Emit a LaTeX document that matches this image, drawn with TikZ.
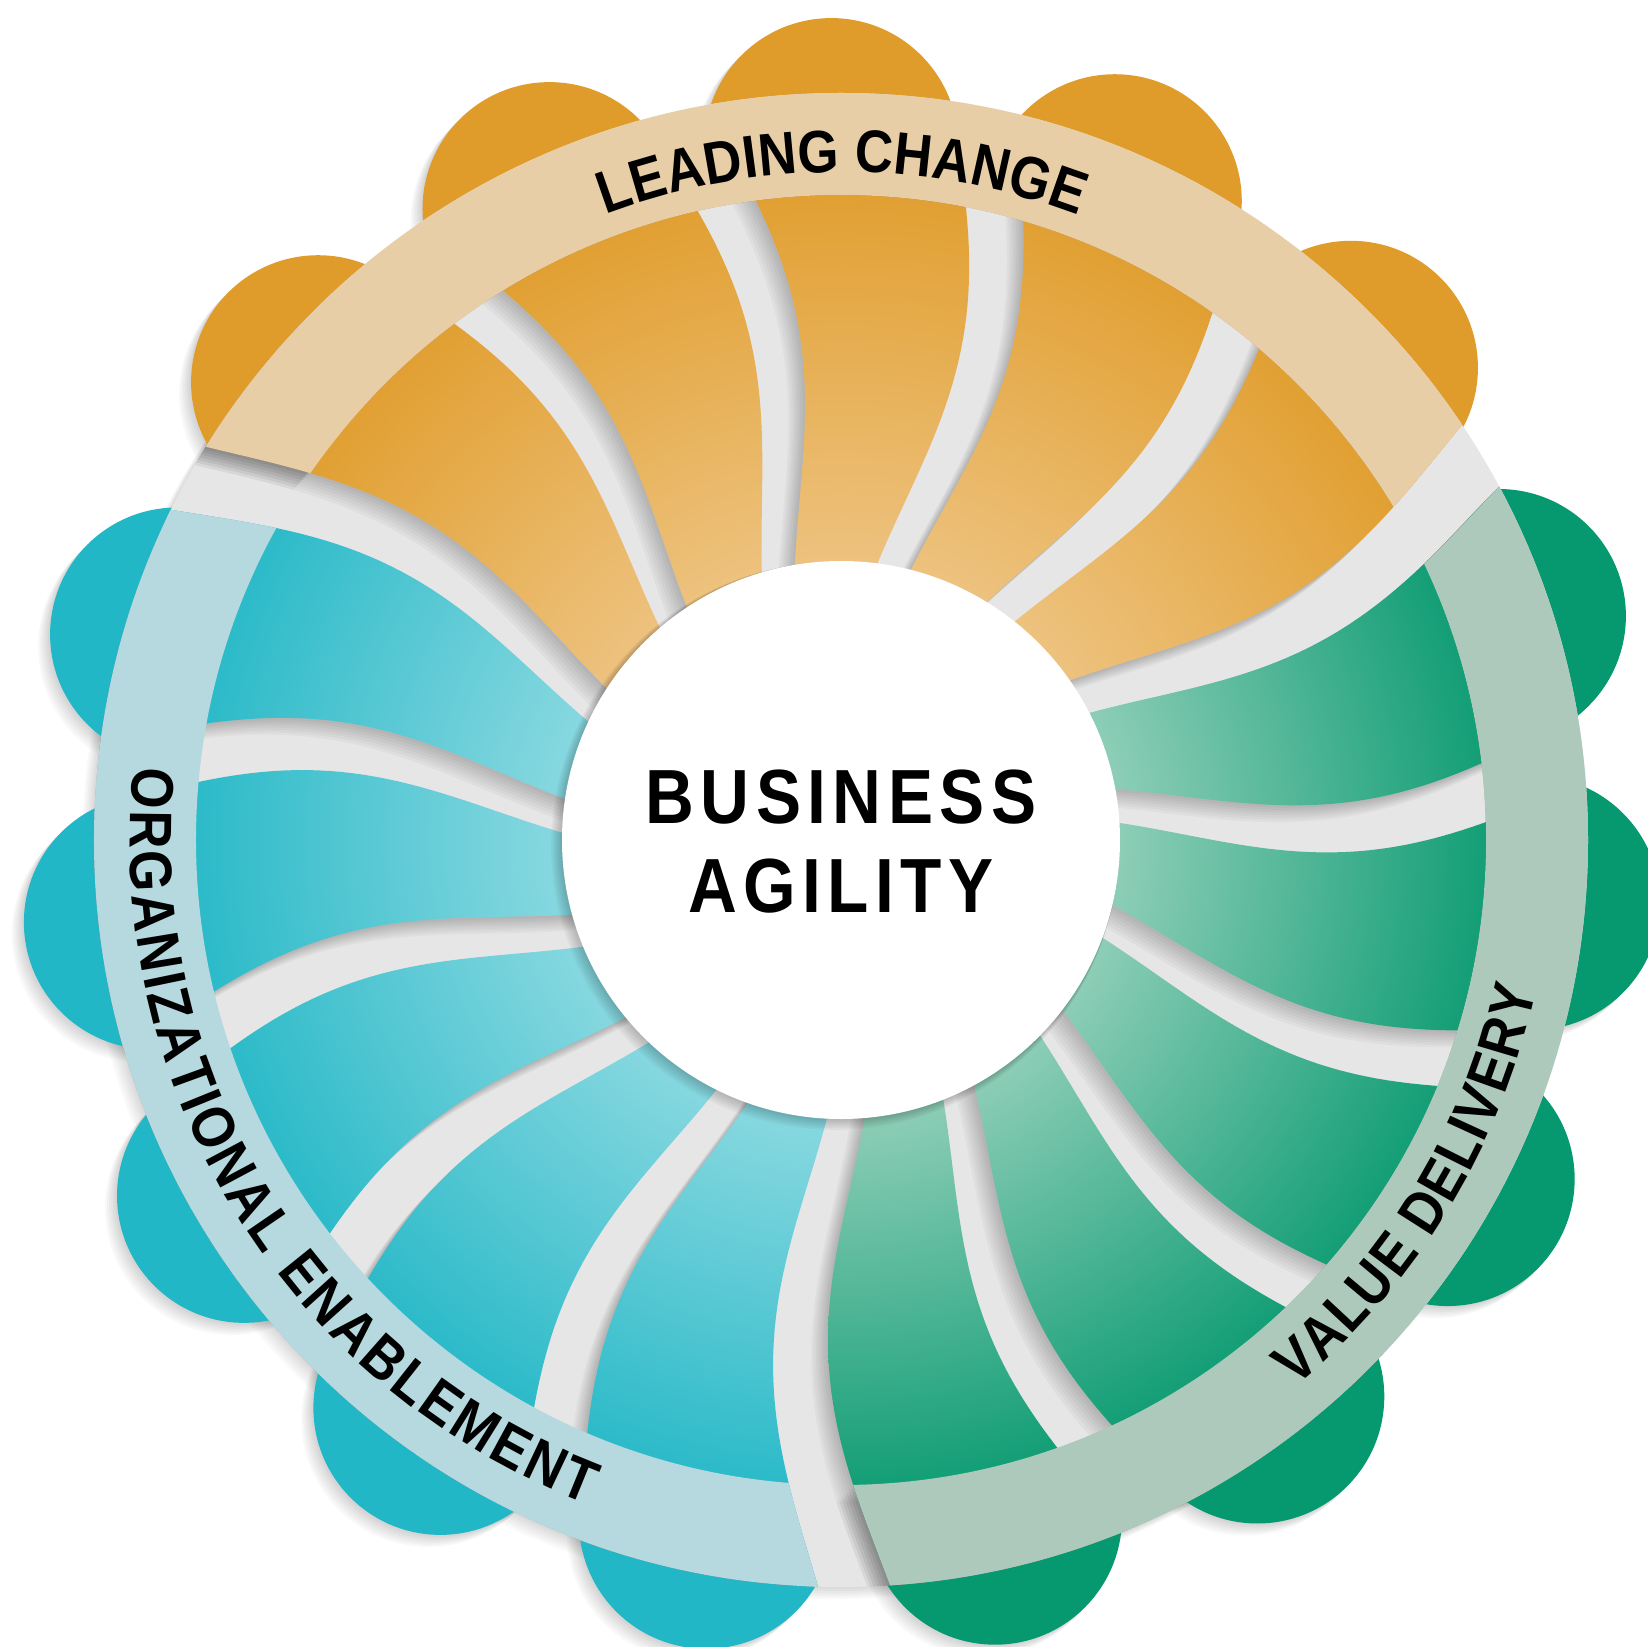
\documentclass[tikz,border=0pt]{standalone}
\usepackage{fontspec}
\setmainfont{Liberation Sans}
\newfontfamily\ringfont{Liberation Sans}[FakeStretch=0.88]
\definecolor{oOut}{HTML}{E09C2A}
\definecolor{oIn}{HTML}{EDC27E}
\definecolor{oRing}{HTML}{E8CEA6}
\definecolor{gOut}{HTML}{06996F}
\definecolor{gIn}{HTML}{8CCDB6}
\definecolor{gRing}{HTML}{ADC9BB}
\definecolor{tOut}{HTML}{22B7C6}
\definecolor{tIn}{HTML}{88D8E0}
\definecolor{tRing}{HTML}{B5D9DE}
\definecolor{gapgrey}{HTML}{E6E6E6}
\pgfdeclareradialshading{oShade}{\pgfpoint{0bp}{0bp}}{color(0bp)=(oIn); color(9.4bp)=(oIn); color(23bp)=(oOut); color(50bp)=(oOut)}
\pgfdeclareradialshading{tShade}{\pgfpoint{0bp}{0bp}}{color(0bp)=(tIn); color(9.4bp)=(tIn); color(23bp)=(tOut); color(50bp)=(tOut)}
\pgfdeclareradialshading{gShade}{\pgfpoint{0bp}{0bp}}{color(0bp)=(gIn); color(9.4bp)=(gIn); color(23bp)=(gOut); color(50bp)=(gOut)}
\tikzset{
  declare function={
    swa(\pA,\pT)=\pA-5.5*sin(180*\pT)*(1+0.35*(1-2*\pT));
    swr(\pT)=279+468*\pT;
    swh(\pT)=17+16*\pT;
    swb(\pT)=19+17*\pT;
  },
  rtxt/.style={inner sep=0pt, outer sep=0pt, anchor=base, font=\ringfont\bfseries\fontsize{60}{60}\selectfont},
  ctxt/.style={inner sep=0pt, outer sep=0pt, anchor=base, font=\ringfont\bfseries\fontsize{76.8}{80}\selectfont},
  shadowbit/.style={fill=black, opacity=#1},
}
\newcommand\petalpath[3]{plot[domain=-0.06:1,samples=44] ({swa(#1,\x)+deg(#2(\x)/swr(\x))}:{swr(\x)}) -- plot[domain=1:-0.06,samples=44] ({swa(#1+24,\x)-deg(#3(\x)/swr(\x))}:{swr(\x)}) -- cycle}
\newcommand\sectorpath[1]{plot[domain=0.45:1.08,samples=24] ({swa(#1,\x)+deg(swb(\x)/swr(\x))}:{swr(\x)}) -- ({#1}:1300) -- ({#1+40}:1300) -- ({#1+80}:1300) -- ({#1+120}:1300) -- plot[domain=1.08:0.45,samples=24] ({swa(#1+120,\x)-deg(swb(\x)/swr(\x))}:{swr(\x)}) -- cycle}
\newcommand\annulus{(747,0) arc[start angle=0,end angle=360,radius=747] -- (645,0) arc[start angle=360,end angle=0,radius=645] -- cycle}
\newcommand\petallist{31/oShade/swb/swh, 55/oShade/swh/swh, 79/oShade/swh/swh, 103/oShade/swh/swh, 127/oShade/swh/swb, 151/tShade/swb/swh, 175/tShade/swh/swh, 199/tShade/swh/swh, 223/tShade/swh/swh, 247/tShade/swh/swb, 271/gShade/swb/swh, 295/gShade/swh/swh, 319/gShade/swh/swh, 343/gShade/swh/swh, 367/gShade/swh/swb}
\newcommand\lobelist{18.8/gOut, 42.8/oOut, 66.8/oOut, 90.8/oOut, 114.8/oOut, 138.8/oOut, 162.8/tOut, 186.8/tOut, 210.8/tOut, 234.8/tOut, 258.8/tOut, 282.8/gOut, 306.8/gOut, 330.8/gOut, 354.8/gOut}
\newcommand\arctext[6]{%
  \begingroup
  \ringfont\bfseries\fontsize{60}{60}\selectfont
  \gdef\atsum{0}\gdef\atn{0}%
  \foreach \ch in {#5}{%
    \pgfmathsetmacro\chw{width("\ch")}%
    \pgfmathsetmacro\tmpa{\atsum+\chw}\xdef\atsum{\tmpa}%
    \pgfmathsetmacro\tmpb{\atn+1}\xdef\atn{\tmpb}%
  }%
  \pgfmathsetmacro\trk{((#4)*pi/180*(#1)-\atsum)/(\atn-1)}%
  \xdef\attrk{\trk}%
  \pgfmathsetmacro\tmpc{(#2)+(#3)*(#4)/2}\xdef\atstart{\tmpc}%
  \gdef\atpos{0}%
  \foreach \ch [count=\ci] in {#5}{%
    \pgfmathsetmacro\chw{width("\ch")}%
    \pgfmathsetmacro\chang{\atstart-(#3)*(\atpos+\chw/2)/(#1)*180/pi}%
    \pgfmathsetmacro\chrot{\chang-(#3)*90}%
    \node[rtxt, rotate=\chrot] (#6\ci) at (\chang:#1) {\ch};%
    \pgfmathsetmacro\tmpd{\atpos+\chw+\attrk}\xdef\atpos{\tmpd}%
  }%
  \endgroup
}
\newcommand\ck{\kern6.5pt\relax}
\begin{document}
\begin{tikzpicture}[x=1pt,y=1pt]
\useasboundingbox (-841,-806) rectangle (807,840);
\fill[white] (-841,-806) rectangle (807,840);
% lobe shadows
\foreach \la/\lc in \lobelist {
  \foreach \s in {1,...,6} {
    \fill[shadowbit=0.028, shift={(-2*\s,-2*\s)}] (\la:695) circle (127);
  }
}
% disk shadow
\foreach \s in {1,...,6} {
  \fill[shadowbit=0.025, shift={(-2*\s,-2*\s)}] (0,0) circle (747);
}
% lobes
\foreach \la/\lc in \lobelist {
  \fill[\lc] (\la:695) circle (127);
}
% grey disk
\fill[gapgrey] (0,0) circle (747);
% petal shadows
\begin{scope}
  \clip (0,0) circle (747);
  \foreach \pa/\sh/\wa/\wb in \petallist {
    \foreach \s in {1,...,7} {
      \fill[shadowbit=0.03, shift={(-2.4*\s,-2.4*\s)}] \petalpath{\pa}{\wa}{\wb};
    }
  }
\end{scope}
% petals
\foreach \pa/\sh/\wa/\wb in \petallist {
  \begin{scope}
    \clip \petalpath{\pa}{\wa}{\wb};
    \shade[shading=\sh] (0,0) circle (747);
  \end{scope}
}
% ring shadows
\begin{scope}
  \clip \annulus;
  \foreach \pa in {31,151,271} {
    \foreach \s in {1,...,7} {
      \begin{scope}[shift={(-2.4*\s,-2.4*\s)}]
        \clip \sectorpath{\pa};
        \fill[shadowbit=0.03] \annulus;
      \end{scope}
    }
  }
\end{scope}
% ring segments
\foreach \pa/\rc in {31/oRing,151/tRing,271/gRing} {
  \begin{scope}
    \clip \sectorpath{\pa};
    \fill[\rc] \annulus;
  \end{scope}
}
% centre disc
\foreach \s in {1,...,6} {
  \fill[shadowbit=0.035] (-1*\s,-1*\s) circle ({279+0.8*\s});
}
\fill[white] (0,0) circle (279);
\node[ctxt] (bus) at (0,17) {B\ck U\ck S\ck I\ck N\ck E\ck S\ck S};
\node[ctxt] (agi) at (0,-72) {A\ck G\ck I\ck L\ck I\ck T\ck Y};
% ring labels
\arctext{668}{89.9}{1}{41.4}{L,E,A,D,I,N,G,~,C,H,A,N,G,E}{lc}
\arctext{711}{-31.2}{-1}{38.2}{V,A,L,U,E,~,D,E,L,I,V,E,R,Y}{vd}
\arctext{711}{211.6}{-1}{75}{O,R,G,A,N,I,Z,A,T,I,O,N,A,L,~,E,N,A,B,L,E,M,E,N,T}{oe}
\end{tikzpicture}
\end{document}
